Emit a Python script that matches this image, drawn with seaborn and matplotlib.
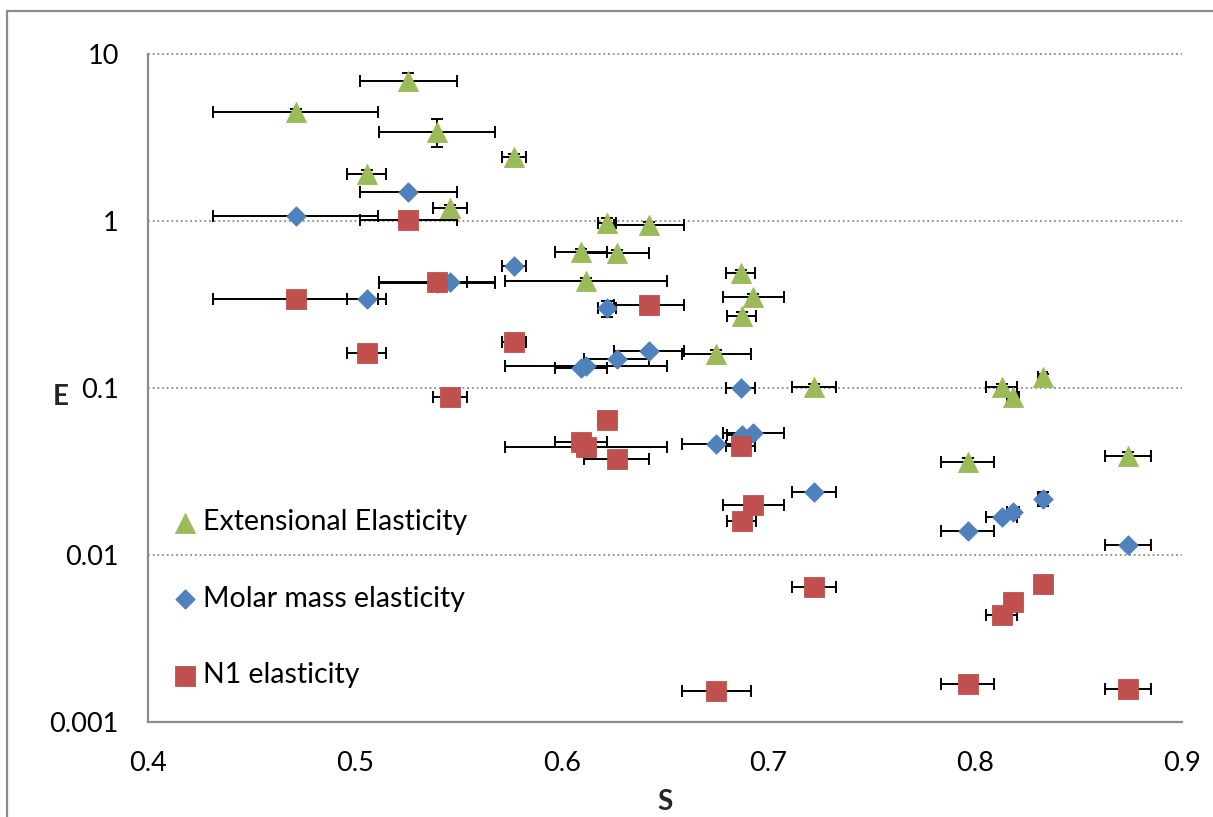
import matplotlib
matplotlib.use("Agg")
import matplotlib.pyplot as plt
from matplotlib.patches import Rectangle
import numpy as np
import pandas as pd
import seaborn as sns

# Order parameter S shared by the three elasticity series, with its spread
s_values = [0.4714, 0.5057, 0.5259, 0.5396, 0.5460, 0.5771, 0.6094, 0.6118,
            0.6218, 0.6266, 0.6423, 0.6749, 0.6866, 0.6870, 0.6927, 0.7220,
            0.7964, 0.8128, 0.8184, 0.8326, 0.8739]
s_err = [0.040, 0.0096, 0.0233, 0.028, 0.0082, 0.0058, 0.0127, 0.039,
         0.0043, 0.0158, 0.017, 0.0165, 0.007, 0.007, 0.0147, 0.0105,
         0.0129, 0.0076, 0.003, 0.002, 0.0111]

extensional = [4.51, 1.90, 6.90, 3.43, 1.19, 2.41, 0.649, 0.437, 0.969, 0.639,
               0.946, 0.160, 0.490, 0.270, 0.352, 0.101, 0.0362, 0.102,
               0.0887, 0.116, 0.0392]
extensional_err = [0.20, 0.13, 0.76, 0.67, 0.05, 0.12, 0.03, 0.02, 0.07, 0.03,
                   0.04, 0.01, 0.02, 0.015, 0.015, 0.005, 0.002, 0.004, 0.003,
                   0.006, 0.002]

molar_mass = [1.076, 0.341, 1.49, 0.425, 0.433, 0.538, 0.132, 0.135, 0.300,
              0.149, 0.167, 0.0462, 0.1005, 0.0523, 0.0535, 0.0238, 0.0139,
              0.0169, 0.018, 0.0217, 0.0115]
molar_mass_err = [0, 0, 0, 0, 0, 0, 0, 0, 0.033, 0, 0, 0, 0, 0, 0, 0, 0, 0,
                  0, 0.002, 0]

n1 = [0.341, 0.161, 1.01, 0.43, 0.0887, 0.189, 0.0477, 0.0445, 0.064, 0.0376,
      0.313, 0.00154, 0.0452, 0.0160, 0.0200, 0.00646, 0.00168, 0.00437,
      0.00525, 0.00668, 0.00158]

series_names = ["Extensional Elasticity", "Molar mass elasticity", "N1 elasticity"]
y_ticks = [0.001, 0.01, 0.1, 1, 10]
y_tick_labels = ["0.001", "0.01", "0.1", "1", "10"]
x_ticks = [0.4, 0.5, 0.6, 0.7, 0.8, 0.9]
x_tick_labels = ["0.4", "0.5", "0.6", "0.7", "0.8", "0.9"]

df = pd.DataFrame({
    "S": s_values * 3,
    "S_err": s_err * 3,
    "E": extensional + molar_mass + n1,
    "E_err": extensional_err + molar_mass_err + [0.0] * len(n1),
    "series": [series_names[0]] * len(s_values)
              + [series_names[1]] * len(s_values)
              + [series_names[2]] * len(s_values),
})

sns.set_theme(style="white")
plt.rcParams["font.family"] = ["Lato", "DejaVu Sans"]

W, H = 1213, 817
fig = plt.figure(figsize=(W / 100, H / 100), dpi=100)
ax = fig.add_axes([148 / W, 1 - 722 / H, (1182 - 148) / W, (722 - 54) / H])

styles = {
    series_names[0]: dict(marker="^", color="#9BBB59", s=210),
    series_names[1]: dict(marker="D", color="#4F81BD", s=98),
    series_names[2]: dict(marker="s", color="#C0504D", s=200),
}

# error bars first, below every marker
for name in series_names:
    sub = df[df["series"] == name]
    yerr = sub["E_err"].to_numpy()
    ax.errorbar(sub["S"], sub["E"], xerr=sub["S_err"],
                yerr=yerr if yerr.any() else None,
                fmt="none", ecolor="black", elinewidth=1.4, capsize=4.2,
                capthick=1.4, zorder=2)

for i, name in enumerate(series_names):
    st = styles[name]
    sns.scatterplot(data=df[df["series"] == name], x="S", y="E", ax=ax,
                    marker=st["marker"], color=st["color"], s=st["s"],
                    edgecolor=st["color"], linewidth=0.6, label=name,
                    zorder=3 + i)

ax.set_yscale("log")
ax.set_xlim(0.4, 0.9)
ax.set_ylim(0.001, 10)
ax.set_yticks(y_ticks)
ax.set_yticklabels(y_tick_labels)
ax.set_xticks(x_ticks)
ax.set_xticklabels(x_tick_labels)
ax.yaxis.set_minor_locator(matplotlib.ticker.NullLocator())
ax.tick_params(axis="both", length=0, labelsize=19.5, colors="black")
ax.tick_params(axis="y", pad=21)
ax.tick_params(axis="x", pad=21)

for yv in y_ticks[1:]:
    ax.axhline(yv, color="#8c8c8c", lw=1.3, linestyle=(0, (1, 1.6)),
               zorder=1, clip_on=False)

for side in ("top", "right"):
    ax.spines[side].set_visible(False)
for side in ("left", "bottom"):
    ax.spines[side].set_color("#8c8c8c")
    ax.spines[side].set_linewidth(1.6)
    ax.spines[side].set_zorder(6)

ax.set_xlabel("S", fontsize=20, fontweight="bold")
ax.set_ylabel("E", fontsize=20, fontweight="bold", rotation=0)
ax.xaxis.label.set_va("center")
ax.yaxis.label.set_va("center")
ax.yaxis.label.set_ha("center")
ax.xaxis.set_label_coords(0.5, (722 - 802) / 668)
ax.yaxis.set_label_coords((60.7 - 148) / 1034, (722 - 396.7) / 668)

handles, labels = ax.get_legend_handles_labels()
leg = ax.legend(handles, labels, loc="upper left",
                bbox_to_anchor=(173.6 / W, 1 - 509 / H),
                bbox_transform=fig.transFigure, frameon=False,
                fontsize=20.5, handlelength=0.8, handletextpad=0.23,
                borderpad=0, borderaxespad=0, labelspacing=1.78)
for t in leg.get_texts():
    t.set_color("black")

# chart frame around the figure
fig.add_artist(Rectangle((7 / W, -0.05), 1.1, 1 - 11 / H + 0.05,
                         transform=fig.transFigure, fill=False,
                         edgecolor="#8c8c8c", lw=1.6))

fig.savefig("out.png", dpi=100)
